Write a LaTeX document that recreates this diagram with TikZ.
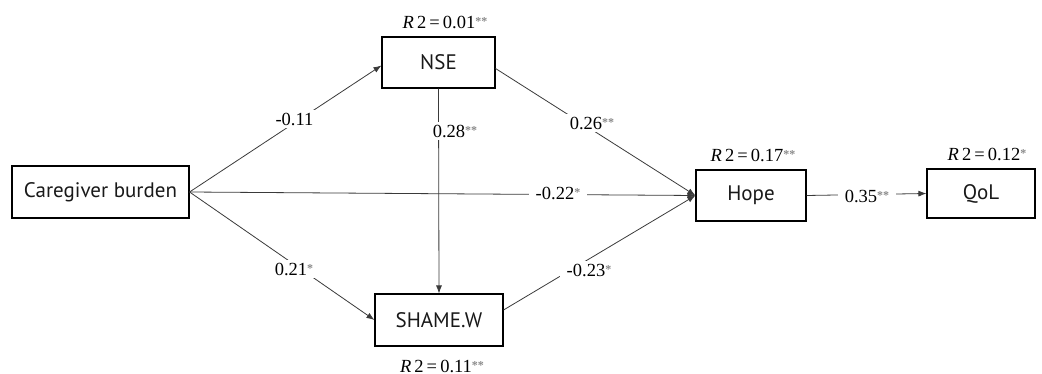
\documentclass[tikz,border=0pt]{standalone}
\usepackage{fontspec}
\setmainfont{Liberation Serif}
\newfontfamily\boxfont{PT Sans}
\usetikzlibrary{arrows.meta}
\definecolor{linegray}{HTML}{3A3A3A}
\definecolor{stargray}{HTML}{8A8A8A}
\newcommand{\sig}[1]{{\color{stargray}\raisebox{0.3ex}{\bfseries\fontsize{12}{12}\selectfont #1}}}
\tikzset{
  varbox/.style={draw=black, line width=1.1pt, rectangle, inner sep=0pt, font=\boxfont\fontsize{21}{21}\selectfont, text=black!90},
  path/.style={draw=linegray, line width=0.8pt},
  arr/.style={path, -{Latex[length=8pt,width=6pt]}},
  coef/.style={fill=white, inner xsep=7pt, inner ysep=3pt, font=\fontsize{18.5}{18.5}\selectfont},
  rsq/.style={inner sep=0pt, font=\fontsize{18.5}{18.5}\selectfont}
}
\begin{document}
\begin{tikzpicture}[x=1pt,y=-1pt]
\useasboundingbox (0,0) rectangle (1042,374);
\node[varbox, minimum width=177pt, minimum height=52pt] (cb) at (100.5,192) {Caregiver burden};
\node[varbox, minimum width=113pt, minimum height=51pt] (nse) at (438.5,62.5) {NSE};
\node[varbox, minimum width=128pt, minimum height=52pt] (shame) at (439,320) {SHAME.W};
\node[varbox, minimum width=110pt, minimum height=51pt] (hope) at (751,195.5) {Hope};
\node[varbox, minimum width=108pt, minimum height=49pt] (qol) at (981,193.5) {QoL};

\node[rsq] (r1) at (445,22) {\textit{R}\,2\,=\,0.01\sig{**}};
\node[rsq] (r2) at (442,366) {\textit{R}\,2\,=\,0.11\sig{**}};
\node[rsq] (r3) at (753,155) {\textit{R}\,2\,=\,0.17\sig{**}};
\node[rsq] (r4) at (987,154) {\textit{R}\,2\,=\,0.12\sig{*}};

\draw[arr] (cb.east) -- ([yshift=-3pt]nse.west);
\draw[arr] (cb.east) -- (shame.west);
\draw[arr] (cb.east) -- (hope.west);
\draw[arr] (nse.south) -- (shame.north);
\draw[arr] ([yshift=-6pt]nse.east) -- (hope.west);
\draw[arr] ([yshift=10pt]shame.east) -- (hope.west);
\draw[arr] (hope.east) -- (qol.west);

\node[coef] (c1) at (294.5,119) {-0.11};
\node[coef] (c2) at (294,269) {0.21\sig{*}};
\node[coef] (c3) at (558,193) {-0.22\sig{*}};
\node[coef] (c4) at (455,131) {0.28\sig{**}};
\node[coef] (c5) at (592,123) {0.26\sig{**}};
\node[coef] (c6) at (589,270) {-0.23\sig{*}};
\node[coef] (c7) at (867,196) {0.35\sig{**}};
\end{tikzpicture}
\end{document}
